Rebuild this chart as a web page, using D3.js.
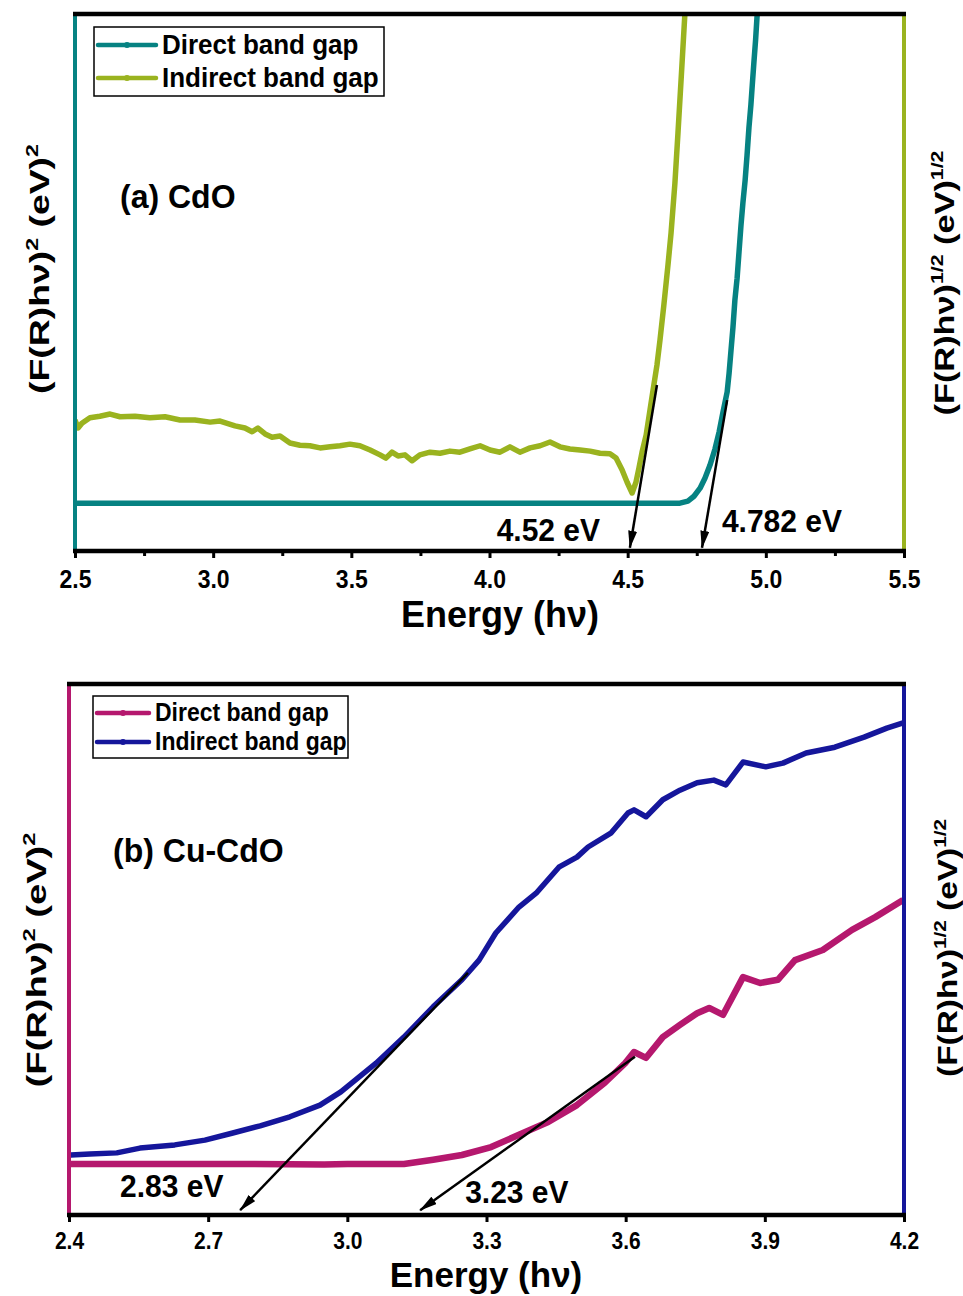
<!DOCTYPE html>
<html>
<head>
<meta charset="utf-8">
<script src="https://cdn.jsdelivr.net/npm/d3@7"></script>
<style>
  body { margin: 0; background: #fff; }
  svg { display: block; font-family: "Liberation Sans", Arial, sans-serif; }
</style>
</head>
<body>
<svg width="963" height="1296"></svg>
<script>
// ---- data (energy in eV, intensity in arbitrary units 0-100) ----
const cdoTicks = [2.5, 3.0, 3.5, 4.0, 4.5, 5.0, 5.5];
const cdoMinor = [2.75, 3.25, 3.75, 4.25, 4.75, 5.25];
const cucdoTicks = [2.4, 2.7, 3.0, 3.3, 3.6, 3.9, 4.2];
const legendNames = ["Direct band gap", "Indirect band gap"];

const cdoDirect = [
  [2.5, 8.9], [2.8, 8.9], [3.2, 8.9], [3.6, 8.9], [4.0, 8.9], [4.4, 8.9], [4.689, 8.9],
  [4.718, 9.3], [4.740, 10.2], [4.762, 11.7], [4.780, 13.6], [4.798, 16.0], [4.816, 19.0],
  [4.831, 22.2], [4.845, 25.9], [4.860, 29.6], [4.867, 33.1], [4.874, 37.4], [4.881, 41.6],
  [4.888, 46.7], [4.896, 50.8], [4.903, 55.7], [4.910, 60.6], [4.917, 64.8], [4.925, 69.0],
  [4.932, 73.7], [4.939, 78.9], [4.946, 83.1], [4.951, 86.8], [4.957, 91.1], [4.963, 95.2],
  [4.968, 99.4], [4.975, 103]
];
const cdoIndirect = [
  [2.500, 24.4], [2.511, 22.9], [2.525, 23.8], [2.554, 24.8], [2.590, 25.1], [2.627, 25.5],
  [2.663, 25.0], [2.717, 25.1], [2.771, 24.8], [2.826, 25.0], [2.880, 24.4], [2.934, 24.4],
  [2.989, 24.0], [3.025, 24.2], [3.079, 23.3], [3.115, 22.9], [3.141, 22.2], [3.162, 22.9],
  [3.188, 21.8], [3.213, 21.2], [3.242, 21.4], [3.278, 20.1], [3.314, 19.7], [3.350, 19.6],
  [3.387, 19.2], [3.423, 19.4], [3.459, 19.6], [3.495, 19.9], [3.531, 19.6], [3.568, 18.8],
  [3.604, 17.9], [3.625, 17.3], [3.647, 18.4], [3.669, 17.7], [3.694, 17.9], [3.720, 16.8],
  [3.748, 17.9], [3.785, 18.4], [3.821, 18.2], [3.857, 18.6], [3.893, 18.4], [3.929, 19.0],
  [3.966, 19.6], [4.002, 18.8], [4.038, 18.4], [4.074, 19.4], [4.110, 18.4], [4.147, 19.2],
  [4.183, 19.6], [4.219, 20.3], [4.255, 19.4], [4.291, 19.0], [4.328, 18.8], [4.364, 18.6],
  [4.400, 18.2], [4.436, 18.1], [4.458, 17.3], [4.480, 15.1], [4.498, 12.8], [4.516, 10.8],
  [4.530, 12.8], [4.541, 15.5], [4.552, 18.4], [4.567, 21.6], [4.581, 26.3], [4.592, 30.0],
  [4.606, 34.6], [4.617, 39.3], [4.631, 45.8], [4.646, 53.3], [4.657, 59.2], [4.671, 68.5],
  [4.682, 77.8], [4.696, 90.1], [4.707, 100.0], [4.716, 102]
];
const cdoArrows = [
  { from: [4.606, 30.9], to: [4.508, 0.6] },
  { from: [4.860, 28.1], to: [4.769, 0.6] }
];
const cdoNotes = [
  { text: "(a) CdO", x: 2.663, y: 63.9, anchor: "start", size: 32 },
  { text: "4.52 eV", x: 4.400, y: 1.9, anchor: "end", size: 30 },
  { text: "4.782 eV", x: 4.841, y: 3.5, anchor: "start", size: 30 }
];

const cucdoDirect = [
  [2.404, 9.6], [2.600, 9.6], [2.800, 9.6], [2.950, 9.5], [3.000, 9.6], [3.122, 9.6],
  [3.185, 10.4], [3.247, 11.3], [3.310, 12.8], [3.370, 15.1], [3.433, 17.5], [3.495, 20.7],
  [3.555, 24.9], [3.599, 28.6], [3.618, 30.7], [3.644, 29.6], [3.680, 33.5], [3.717, 35.8],
  [3.754, 38.0], [3.780, 39.0], [3.810, 37.7], [3.853, 44.8], [3.890, 43.7], [3.928, 44.3],
  [3.965, 48.0], [4.025, 49.9], [4.088, 53.7], [4.138, 56.1], [4.198, 59.3]
];
const cucdoIndirect = [
  [2.404, 11.3], [2.445, 11.5], [2.503, 11.7], [2.553, 12.6], [2.628, 13.2], [2.693, 14.1],
  [2.751, 15.4], [2.812, 16.8], [2.876, 18.5], [2.941, 20.7], [2.986, 23.2], [3.062, 28.6],
  [3.122, 33.5], [3.185, 39.2], [3.247, 44.3], [3.284, 48.0], [3.320, 53.1], [3.370, 58.0],
  [3.407, 60.6], [3.456, 65.5], [3.495, 67.4], [3.519, 69.3], [3.568, 71.9], [3.605, 75.7],
  [3.618, 76.3], [3.644, 75.0], [3.680, 78.2], [3.717, 80.0], [3.754, 81.4], [3.790, 81.9],
  [3.816, 81.0], [3.853, 85.3], [3.902, 84.4], [3.939, 85.1], [3.989, 87.0], [4.051, 88.1],
  [4.114, 90.0], [4.163, 91.7], [4.198, 92.7]
];
const cucdoArrows = [
  { from: [3.260, 45.6], to: [2.769, 0.9] },
  { from: [3.620, 29.8], to: [3.157, 0.9] }
];
const cucdoNotes = [
  { text: "(b) Cu-CdO", x: 2.495, y: 66.5, anchor: "start", size: 32 },
  { text: "2.83 eV", x: 2.510, y: 3.4, anchor: "start", size: 30 },
  { text: "3.23 eV", x: 3.254, y: 2.3, anchor: "start", size: 30 }
];

// ---- drawing ----
const svg = d3.select("svg");
const defs = svg.append("defs");
defs.append("marker")
  .attr("id", "ah")
  .attr("viewBox", "0 0 18 9")
  .attr("refX", 17)
  .attr("refY", 4.5)
  .attr("markerWidth", 18)
  .attr("markerHeight", 9)
  .attr("markerUnits", "userSpaceOnUse")
  .attr("orient", "auto")
  .append("path")
  .attr("d", "M0,0 L18,4.5 L0,9 Z")
  .attr("fill", "#000");

const hText = (g, txt, x, y, size, sy, anchor) => {
  return g.append("text")
    .text(txt)
    .attr("font-size", size)
    .attr("font-weight", "bold")
    .attr("text-anchor", anchor)
    .attr("fill", "#000")
    .attr("transform", `translate(${x},${y}) scale(1,${sy})`);
};

const yLabel = (g, sup, cx, cy, size, len) => {
  const t = g.append("text")
    .attr("font-size", size)
    .attr("font-weight", "bold")
    .attr("text-anchor", "middle")
    .attr("fill", "#000")
    .attr("y", size * 0.35);
  const s = size * 0.62;
  t.append("tspan").text("(F(R)hν)");
  t.append("tspan").text(sup).attr("font-size", s).attr("dy", -size * 0.42);
  t.append("tspan").text(" (eV)").attr("dy", size * 0.42);
  t.append("tspan").text(sup).attr("font-size", s).attr("dy", -size * 0.42);
  const k = len / t.node().getComputedTextLength();
  t.attr("transform", `translate(${cx},${cy}) rotate(-90) scale(${k},1)`);
};

const drawPanel = (p) => {
  const x = d3.scaleLinear().domain(p.xDomain).range([p.left, p.right]);
  const yL = d3.scaleLinear().domain([0, 100]).range([p.bottom, p.top]);
  const yR = yL.copy();
  const g = svg.append("g");

  defs.append("clipPath").attr("id", "clip-" + p.id)
    .append("rect")
    .attr("x", p.left).attr("y", p.top)
    .attr("width", p.right - p.left).attr("height", p.bottom - p.top);

  const curves = g.append("g").attr("clip-path", `url(#clip-${p.id})`);
  p.series.forEach((s, i) => {
    const ys = i === 0 ? yL : yR;
    curves.append("path")
      .datum(s.data)
      .attr("fill", "none")
      .attr("stroke", s.color)
      .attr("stroke-width", s.width)
      .attr("stroke-linejoin", "round")
      .attr("d", d3.line().x((d) => x(d[0])).y((d) => ys(d[1])));
  });

  // frame
  g.append("line").attr("x1", p.left).attr("x2", p.left).attr("y1", p.top).attr("y2", p.bottom)
    .attr("stroke", p.series[0].color).attr("stroke-width", 4);
  g.append("line").attr("x1", p.right).attr("x2", p.right).attr("y1", p.top).attr("y2", p.bottom)
    .attr("stroke", p.series[1].color).attr("stroke-width", 4);
  g.append("line").attr("x1", p.left - 2).attr("x2", p.right + 2).attr("y1", p.top).attr("y2", p.top)
    .attr("stroke", "#000").attr("stroke-width", 4.5);

  const xAxis = d3.axisBottom(x).tickValues(p.ticks).tickSize(7).tickSizeOuter(0)
    .tickFormat(d3.format(".1f"));
  const ax = g.append("g").attr("transform", `translate(0,${p.bottom})`).call(xAxis)
    .attr("font-family", null).attr("font-size", null);
  ax.select(".domain").remove();
  ax.selectAll(".tick line").attr("stroke", "#000").attr("stroke-width", 3);
  ax.selectAll(".tick text")
    .attr("y", null).attr("dy", null)
    .attr("fill", "#000")
    .attr("font-size", p.tickFont)
    .attr("font-weight", "bold")
    .attr("transform", `translate(0,${p.tickOff}) scale(1,1.12)`);
  if (p.minor) {
    const mAxis = d3.axisBottom(x).tickValues(p.minor).tickSize(5).tickSizeOuter(0).tickFormat(() => "");
    const mx = g.append("g").attr("transform", `translate(0,${p.bottom})`).call(mAxis);
    mx.select(".domain").remove();
    mx.selectAll(".tick line").attr("stroke", "#000").attr("stroke-width", 3);
  }
  g.append("line").attr("x1", p.left - 2).attr("x2", p.right + 2).attr("y1", p.bottom).attr("y2", p.bottom)
    .attr("stroke", "#000").attr("stroke-width", 4.5);

  // tangent arrows
  p.arrows.forEach((a) => {
    g.append("line")
      .attr("x1", x(a.from[0])).attr("y1", yL(a.from[1]))
      .attr("x2", x(a.to[0])).attr("y2", yL(a.to[1]))
      .attr("stroke", "#000").attr("stroke-width", 2.5)
      .attr("marker-end", "url(#ah)");
  });

  // notes
  p.notes.forEach((n) => {
    hText(g, n.text, x(n.x), yL(n.y), n.size, 1.05, n.anchor);
  });

  // legend
  const L = p.legend;
  g.append("rect")
    .attr("x", L.x).attr("y", L.y).attr("width", L.w).attr("height", L.h)
    .attr("fill", "#fff").attr("stroke", "#000").attr("stroke-width", 1.5);
  p.series.forEach((s, i) => {
    const ry = L.rows[i];
    g.append("line")
      .attr("x1", L.x + 4).attr("x2", L.x + 4 + L.lineLen)
      .attr("y1", ry).attr("y2", ry)
      .attr("stroke", s.color).attr("stroke-width", 4.5).attr("stroke-linecap", "round");
    g.append("circle")
      .attr("cx", L.x + 4 + L.lineLen / 2).attr("cy", ry).attr("r", 3)
      .attr("fill", s.color);
    hText(g, legendNames[i], L.x + L.lineLen + 10, ry + L.textDy, L.font, L.sy, "start");
  });

  // axis titles
  hText(g, "Energy (hν)", p.titleX, p.titleY, p.titleFont, 1.0, "middle");
  yLabel(g, "2", p.yl.x, p.yl.y, 27, p.yl.len);
  yLabel(g, "1/2", p.yr.x, p.yr.y, 27, p.yr.len);
};

drawPanel({
  id: "a",
  xDomain: [2.5, 5.5], left: 75, right: 904, top: 14, bottom: 551,
  ticks: cdoTicks, minor: cdoMinor, tickFont: 23, tickOff: 37,
  series: [
    { data: cdoDirect, color: "#068282", width: 5.5 },
    { data: cdoIndirect, color: "#9ab31f", width: 5.5 }
  ],
  arrows: cdoArrows,
  notes: cdoNotes,
  legend: { x: 94, y: 27, w: 290, h: 69, rows: [45, 78], lineLen: 58, font: 26, sy: 1.08, textDy: 9 },
  titleX: 500, titleY: 627, titleFont: 36,
  yl: { x: 40, y: 269, len: 250 },
  yr: { x: 945, y: 283, len: 265 }
});

drawPanel({
  id: "b",
  xDomain: [2.4, 4.2], left: 69, right: 904, top: 684, bottom: 1215,
  ticks: cucdoTicks, minor: null, tickFont: 21, tickOff: 34,
  series: [
    { data: cucdoDirect, color: "#b5186e", width: 6.5 },
    { data: cucdoIndirect, color: "#15169b", width: 5.5 }
  ],
  arrows: cucdoArrows,
  notes: cucdoNotes,
  legend: { x: 93, y: 696, w: 255, h: 62, rows: [713, 742], lineLen: 52, font: 23, sy: 1.12, textDy: 8 },
  titleX: 486, titleY: 1287, titleFont: 35,
  yl: { x: 37, y: 960, len: 255 },
  yr: { x: 948, y: 948, len: 258 }
});
</script>
</body>
</html>
